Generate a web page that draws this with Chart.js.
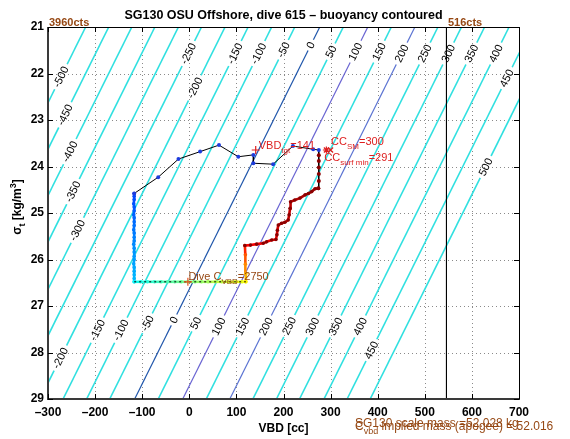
<!DOCTYPE html>
<html><head><meta charset="utf-8">
<script src="https://cdn.jsdelivr.net/npm/chart.js@4/dist/chart.umd.min.js"></script>
<style>html,body{margin:0;padding:0;background:#fff;}#wrap{width:570px;height:439px;}</style>
</head><body><div id="wrap"><canvas id="c" width="570" height="439"></canvas></div>
<script>
// ---------- data ----------
const contourLevels = [-500,-450,-400,-350,-300,-250,-200,-150,-100,-50,0,50,100,150,200,250,300,350,400,450,500];
const contourVbdSigma21 = [-220,-171,-122,-73,-23,26,76,125,175,224,277,327,379,429,479,528,578,627,679,728,777];
const contourVbdSigma29 = [-613,-564,-515,-466,-416,-367,-317,-268,-218,-169,-116,-66,-14,36,86,135,185,234,286,335,384];
const labelLevels = [-500,-450,-400,-350,-300,-250,-200,-150,-100,-50,0,50,100,150,200,250,300,350,400,450,500,
                     -200,-150,-100,-50,0,50,100,150,200,250,300,350,400,450];
const labelSigmas = [22.07,22.89,23.68,24.54,25.37,21.57,22.31,21.57,21.57,21.49,21.39,21.53,21.53,21.53,21.57,21.57,21.57,21.57,21.57,22.10,24.01,
                     28.12,27.52,27.52,27.37,27.30,27.37,27.44,27.44,27.44,27.43,27.44,27.44,27.44,27.95];

const xTickValues = [-300,-200,-100,0,100,200,300,400,500,600,700];
const yTickValues = [21,22,23,24,25,26,27,28,29];

// climb (black line, blue dots) then surface vertical (dark red dots)
const climbVbd   = [-117,-66,-23,23,63,104,136,136,178,220,263,275, 275,275,275,275,275,274];
const climbSigma = [24.58,24.23,23.84,23.68,23.54,23.79,23.75,23.93,23.95,23.56,23.63,23.645, 23.76,23.88,24.02,24.16,24.31,24.47];

// colored path sections
const downVbd   = [-117,-117,-117,-118,-117,-117,-118,-117,-117,-117,-118,-117,-117,-117,-118,-117,-117,-117,-117,-118,-117,-117,-117,-117,-117];
const downSigma = [24.58,24.64,24.71,24.80,24.87,24.95,25.04,25.10,25.19,25.27,25.36,25.43,25.52,25.60,25.67,25.76,25.84,25.93,26.00,26.09,26.17,26.25,26.33,26.41,26.48];
const bottomVbd   = [-117,-103,-89,-74,-60,-46,-31,-17,-3,12,26,40,55,69,83,98,112,120];
const bottomSigma = [26.48,26.48,26.48,26.48,26.48,26.48,26.48,26.48,26.48,26.48,26.48,26.48,26.48,26.48,26.48,26.48,26.48,26.48];
const riseVbd   = [120,120,119,119,118];
const riseSigma = [26.48,26.30,26.10,25.90,25.70];
const stepVbd   = [118,130,143,157,164,175,184,186,187,189,196,203,210,212,214,215,224,235,246,253,260,267,274];
const stepSigma = [25.70,25.69,25.67,25.65,25.62,25.58,25.57,25.47,25.37,25.26,25.22,25.20,25.15,25.04,24.90,24.76,24.72,24.68,24.61,24.58,24.54,24.48,24.47];

// markers: VBD target, CC_SM, CC surf min, dive C_VBD
const markerVbd   = [141,300,291,-3];
const markerSigma = [23.645,23.645,23.645,26.48];
const vbdTarget = 141, ccSM = 300, ccSurfMin = 291, diveCvbd = 2750;
const countsLeft = 3960, countsRight = 516, vbdAtCountsRight = 546;
const scaleMass = 52.028, impliedMass = 52.016;

// ---------- helpers ----------
const FONT = '"Liberation Sans", Arial, Helvetica, sans-serif';
function clamp(v){return Math.max(0,Math.min(1,v));}
function jet(t){
  const r = clamp(Math.min(4*t-1.5, -4*t+4.5));
  const g = clamp(Math.min(4*t-0.5, -4*t+3.5));
  const b = clamp(Math.min(4*t+0.5, -4*t+2.5));
  return `rgb(${Math.round(r*255)},${Math.round(g*255)},${Math.round(b*255)})`;
}
const sections = [[downVbd,downSigma,0.19,0.31],[bottomVbd,bottomSigma,0.38,0.62],[riseVbd,riseSigma,0.64,0.84],[stepVbd,stepSigma,0.87,0.97]];
const pathPts = [], pathCols = [], pathPtCols = [];
sections.forEach(([vx,vy,t0,t1],si)=>{
  vx.forEach((v,k)=>{
    const t = t0 + (t1-t0)*(vx.length>1 ? k/(vx.length-1) : 0);
    pathPts.push({x:v,y:vy[k]});
    pathCols.push(jet(t));
    pathPtCols.push(si===3 ? '#8a0000' : jet(t));
  });
});
const bottomPts = bottomVbd.map((v,k)=>({x:v,y:bottomSigma[k]}));
const climbPts = climbVbd.map((v,k)=>({x:v,y:climbSigma[k]}));
const climbPtCols = climbVbd.map((v,k)=> k<12 ? 'rgb(30,60,220)' : '#8a0000');

function rich(ctx, parts, x, y, size, color, weight){
  let cx = x;
  ctx.fillStyle = color;
  ctx.textAlign = 'left';
  ctx.textBaseline = 'alphabetic';
  for (const p of parts){
    const fs = (p.sub||p.sup) ? Math.round(size*0.75) : size;
    ctx.font = `${weight||'normal'} ${fs}px ${FONT}`;
    const dy = p.sub ? size*0.35 : (p.sup ? -size*0.45 : 0);
    ctx.fillText(p.t, cx, y+dy);
    cx += ctx.measureText(p.t).width;
  }
  return cx - x;
}
function richWidth(ctx, parts, size, weight){
  let w = 0;
  for (const p of parts){
    const fs = (p.sub||p.sup) ? Math.round(size*0.75) : size;
    ctx.font = `${weight||'normal'} ${fs}px ${FONT}`;
    w += ctx.measureText(p.t).width;
  }
  return w;
}
function labelGeom(chart, k){
  const L = labelLevels[k], s = labelSigmas[k];
  const i = contourLevels.indexOf(L);
  const xs = chart.scales.x, ys = chart.scales.y;
  const x21 = xs.getPixelForValue(contourVbdSigma21[i]), y21 = ys.getPixelForValue(21);
  const x29 = xs.getPixelForValue(contourVbdSigma29[i]), y29 = ys.getPixelForValue(29);
  const f = (s-21)/8;
  const vbd = contourVbdSigma21[i] + (contourVbdSigma29[i]-contourVbdSigma21[i])*f;
  return {i, px: xs.getPixelForValue(vbd), py: ys.getPixelForValue(s), ang: Math.atan2(y21-y29, x21-x29), text: String(L)};
}
const LABEL_FONT = `11px ${FONT}`;
const BROWN = 'rgb(150,72,20)';
const RED = 'rgb(222,30,30)';

// ---------- datasets ----------
const datasets = [];
contourLevels.forEach((L,i)=>{
  let col = 'rgb(48,224,224)', w = 1.6;
  if (L===0){col='rgb(30,85,170)'; w=1.2;}
  if (L===100){col='rgb(105,100,210)'; w=1.2;}
  if (L===200){col='rgb(90,115,210)'; w=1.2;}
  datasets.push({type:'line', label:'b='+L, data:[{x:contourVbdSigma21[i],y:21},{x:contourVbdSigma29[i],y:29}],
    borderColor:col, borderWidth:w, pointRadius:0, order:20, isContour:true, contourIndex:i});
});
datasets.push({type:'line', label:'516cts', data:[{x:vbdAtCountsRight,y:21},{x:vbdAtCountsRight,y:29}],
  borderColor:'#000', borderWidth:1, pointRadius:0, order:15});
datasets.push({type:'line', label:'path', data:pathPts, borderWidth:2.6,
  segment:{borderColor: c => pathCols[c.p1DataIndex]},
  pointRadius:1.8, pointBackgroundColor:pathPtCols, pointBorderColor:pathPtCols, pointBorderWidth:0, order:6});
datasets.push({type:'line', label:'bottom', data:bottomPts, borderColor:'#000', borderWidth:1, borderDash:[2,3],
  pointRadius:0, order:5});
datasets.push({type:'line', label:'climb', data:climbPts, borderColor:'#000', borderWidth:1,
  pointRadius:2, pointBackgroundColor:climbPtCols, pointBorderColor:climbPtCols, pointBorderWidth:0, order:4});
datasets.push({type:'scatter', label:'markers', data:markerVbd.map((v,k)=>({x:v,y:markerSigma[k]})),
  pointStyle:['cross','crossRot','star','cross'], pointRadius:[4,3.5,3.5,4], borderWidth:1.2,
  pointBorderColor:[RED,RED,RED,'rgb(235,80,30)'], pointBackgroundColor:'rgba(0,0,0,0)', showLine:false, order:1});

// ---------- plugin ----------
const deco = {
  id:'deco',
  beforeDatasetsDraw(chart){
    const {ctx, chartArea:a, scales:{x:xs,y:ys}} = chart;
    ctx.save();
    ctx.strokeStyle = '#8a8a8a'; ctx.lineWidth = 1; ctx.setLineDash([1,3]);
    xTickValues.forEach(v=>{ const p = Math.round(xs.getPixelForValue(v))+0.5;
      if (v===-300||v===700) return;
      ctx.beginPath(); ctx.moveTo(p,a.top); ctx.lineTo(p,a.bottom); ctx.stroke(); });
    yTickValues.forEach(v=>{ const p = Math.round(ys.getPixelForValue(v))+0.5;
      if (v===21||v===29) return;
      ctx.beginPath(); ctx.moveTo(a.left,p); ctx.lineTo(a.right,p); ctx.stroke(); });
    ctx.restore();
  },
  beforeDatasetDraw(chart,args){
    const ds = chart.data.datasets[args.index];
    if (!ds.isContour) return;
    const ctx = chart.ctx;
    ctx.save();
    ctx.font = LABEL_FONT;
    ctx.beginPath();
    ctx.rect(0,0,chart.width,chart.height);
    labelLevels.forEach((L,k)=>{
      if (L !== contourLevels[ds.contourIndex]) return;
      const g = labelGeom(chart,k);
      const hw = ctx.measureText(g.text).width/2 + 3, hh = 5;
      const c = Math.cos(g.ang), s = Math.sin(g.ang);
      const pts = [[-hw,-hh],[hw,-hh],[hw,hh],[-hw,hh]].map(([u,v])=>[g.px+u*c-v*s, g.py+u*s+v*c]);
      ctx.moveTo(pts[0][0],pts[0][1]);
      for (let j=1;j<4;j++) ctx.lineTo(pts[j][0],pts[j][1]);
      ctx.closePath();
    });
    ctx.clip('evenodd');
  },
  afterDatasetDraw(chart,args){
    const ds = chart.data.datasets[args.index];
    if (ds.isContour) chart.ctx.restore();
  },
  afterDatasetsDraw(chart){
    const {ctx, chartArea:a, scales:{x:xs,y:ys}} = chart;
    ctx.save();
    // contour labels
    ctx.font = LABEL_FONT; ctx.fillStyle = '#000'; ctx.textAlign='center'; ctx.textBaseline='middle';
    labelLevels.forEach((L,k)=>{
      const g = labelGeom(chart,k);
      ctx.save(); ctx.translate(g.px,g.py); ctx.rotate(g.ang); ctx.fillText(g.text,0,0.5); ctx.restore();
    });
    // box
    ctx.setLineDash([]);
    ctx.strokeStyle='#000'; ctx.lineWidth=1;
    ctx.beginPath(); ctx.moveTo(a.left,a.top+0.5); ctx.lineTo(a.right+0.5,a.top+0.5); ctx.lineTo(a.right+0.5,a.bottom); ctx.stroke();
    ctx.strokeStyle='#3a3a3a'; ctx.lineWidth=2;
    ctx.beginPath(); ctx.moveTo(a.left,a.top); ctx.lineTo(a.left,a.bottom); ctx.lineTo(a.right+1,a.bottom); ctx.stroke();
    // tick marks (inward, all sides)
    ctx.strokeStyle='#000'; ctx.lineWidth=1;
    xTickValues.forEach(v=>{ const p=Math.round(xs.getPixelForValue(v))+0.5;
      ctx.beginPath(); ctx.moveTo(p,a.bottom); ctx.lineTo(p,a.bottom-5); ctx.moveTo(p,a.top); ctx.lineTo(p,a.top+5); ctx.stroke(); });
    yTickValues.forEach(v=>{ const p=Math.round(ys.getPixelForValue(v))+0.5;
      ctx.beginPath(); ctx.moveTo(a.left,p); ctx.lineTo(a.left+5,p); ctx.moveTo(a.right,p); ctx.lineTo(a.right-5,p); ctx.stroke(); });
    // annotations anchored on data
    const P = (vx,vy)=>[xs.getPixelForValue(vx), ys.getPixelForValue(vy)];
    let [tx,ty] = P(vbdTarget, markerSigma[0]);
    rich(ctx,[{t:'VBD'},{t:'tgt',sub:true},{t:'='+vbdTarget}], tx+3, ty-0.5, 11, RED);
    [tx,ty] = P(ccSM, markerSigma[1]);
    rich(ctx,[{t:'CC'},{t:'SM',sub:true},{t:'='+ccSM}], tx+0.5, ty-5, 11, RED);
    [tx,ty] = P(ccSurfMin, markerSigma[2]);
    rich(ctx,[{t:'CC'},{t:'surf min',sub:true},{t:'='+ccSurfMin}], tx-2, ty+11, 11, RED);
    [tx,ty] = P(markerVbd[3], markerSigma[3]);
    rich(ctx,[{t:'Dive C'},{t:'VBD',sub:true},{t:'='+diveCvbd}], tx+0.5, ty-2, 11, BROWN);
    [tx,ty] = P(-300, 21);
    rich(ctx,[{t:countsLeft+'cts'}], tx+1, ty-1, 11, BROWN, 'bold');
    [tx,ty] = P(vbdAtCountsRight, 21);
    rich(ctx,[{t:countsRight+'cts'}], tx+1.5, ty-1, 11, BROWN, 'bold');
    ctx.restore();
  },
  afterDraw(chart){
    const {ctx, chartArea:a} = chart;
    ctx.save();
    const cx = (a.left+a.right)/2;
    // title
    ctx.font = `bold 12.5px ${FONT}`; ctx.fillStyle='#000'; ctx.textAlign='center'; ctx.textBaseline='alphabetic';
    ctx.fillText('SG130 OSU Offshore, dive 615 \u2013 buoyancy contoured', cx, 19);
    // x label
    ctx.font = `bold 12px ${FONT}`;
    ctx.fillText('VBD [cc]', cx, a.bottom+33);
    // y label
    const yparts = [{t:'\u03c3'},{t:'t',sub:true},{t:' [kg/m'},{t:'3',sup:true},{t:']'}];
    const w = richWidth(ctx,yparts,12,'bold');
    ctx.translate(21, 207); ctx.rotate(-Math.PI/2);
    rich(ctx, yparts, -w/2, 0, 12, '#000', 'bold');
    ctx.restore();
    ctx.save();
    // bottom-right mass notes (overlapping as in the original)
    rich(ctx,[{t:'SG130 scale mass ='+scaleMass.toFixed(3)+' kg'}], a.left+307, a.bottom+28, 12, BROWN);
    rich(ctx,[{t:'C'},{t:'vbd',sub:true},{t:' implied mass (apogee) = '+impliedMass.toFixed(3)}], a.left+307, a.bottom+31, 12, BROWN);
    ctx.restore();
  }
};

new Chart(document.getElementById('c'), {
  data:{datasets},
  options:{
    responsive:false, animation:false, devicePixelRatio:1,
    layout:{padding:{top:27,right:51,left:0,bottom:0}},
    plugins:{legend:{display:false}, tooltip:{enabled:false}, title:{display:false}},
    scales:{
      x:{type:'linear', min:-300, max:700, position:'bottom',
        afterBuildTicks: s => { s.ticks = xTickValues.map(v=>({value:v})); },
        afterFit: s => { s.height = 40; },
        grid:{display:false, drawTicks:false}, border:{display:false},
        ticks:{padding:6, color:'#000', font:{family:FONT, size:12, weight:'bold'},
          maxRotation:0, autoSkip:false, callback: v => String(v).replace('-','\u2013')}},
      y:{type:'linear', min:21, max:29, reverse:true,
        afterBuildTicks: s => { s.ticks = yTickValues.map(v=>({value:v})); },
        afterFit: s => { s.width = 48; },
        grid:{display:false, drawTicks:false}, border:{display:false},
        ticks:{padding:4, color:'#000', font:{family:FONT, size:12, weight:'bold'}, autoSkip:false}}
    }
  },
  plugins:[deco]
});
</script></body></html>
